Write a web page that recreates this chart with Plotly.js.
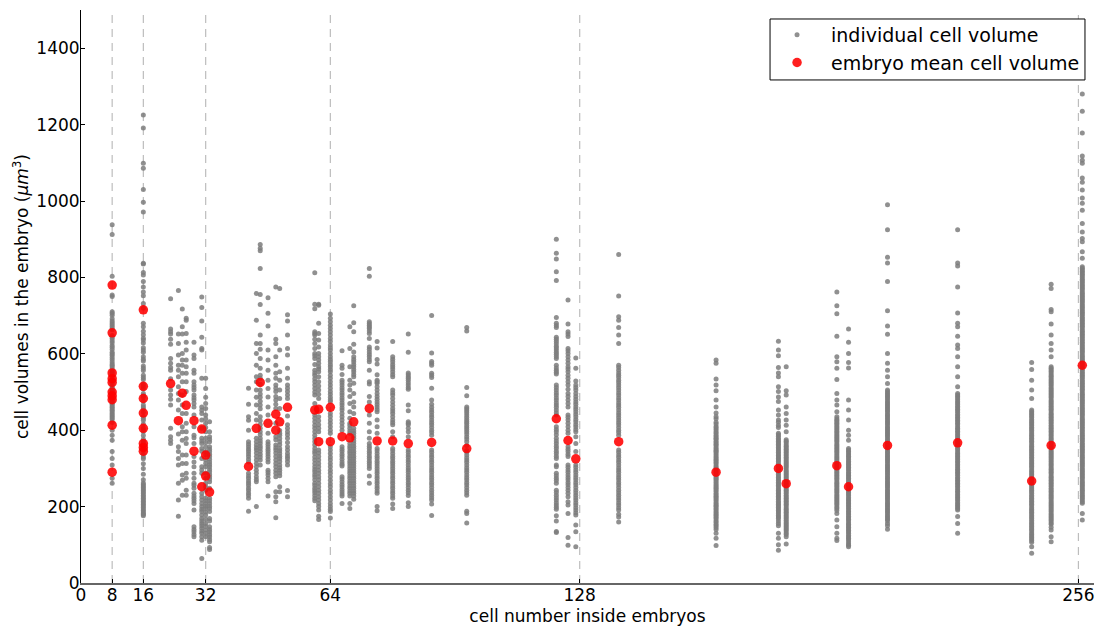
<!DOCTYPE html>
<html>
<head>
<meta charset="utf-8">
<script src="https://cdn.plot.ly/plotly-3.0.1.min.js"></script>
<style>html,body{margin:0;padding:0;background:#fff}#chart{width:1100px;height:629px}</style>
</head>
<body>
<div id="chart"></div>
<script>
const guideCounts = [8, 16, 32, 64, 128, 256];
const xTickValues = [0, 8, 16, 32, 64, 128, 256];
const yTickValues = [0, 200, 400, 600, 800, 1000, 1200, 1400];

const meanCounts = [8,8,8,8,8,8,8,8,8,8,16,16,16,16,16,16,16,16,23,25,26,27,29,29,31,31,32,32,33,43,45,46,48,50,50,51,53,60,61,61,64,64,67,69,70,74,76,80,84,90,99,122,125,127,138,163,179,181,194,197,207,225,244,249,257];
const meanVolumes = [780,655,550,535,525,500,490,480,413,290,715,515,483,445,405,365,355,345,522,425,497,465,425,345,403,252,335,280,238,305,405,525,418,442,400,422,460,453,455,370,460,370,383,380,422,457,372,372,365,368,352,430,373,325,370,290,300,260,307,252,360,367,267,360,570];

const c8 = [938,912,803,754,750,710,701,692,681,672,663,648,640,629,622,611,604,596,585,574,566,556,548,541,532,523,516,508,500,491,484,476,468,460,452,444,436,428,420,400,387,374,344,326,309,274,261,
  706,686,677,667,644,634,617,600,590,579,570,561,552,537,528,512,504,496,488,480,472,464,456,448,440,432];
const c16 = [1225,1191,1099,1086,1030,997,971,837,813,806,789,775,762,752,732,719,680,671,659,650,641,628,616,604,592,581,568,556,544,533,520,508,496,486,476,466,456,447,436,426,416,406,396,386,376,366,356,346,336,325,312,300,285,270,262,254,246,238,230,222,214,206,198,190,182,176,
  835,636,610,586,562,538,514,491,461,431,401,371,351,330,258,250,242,234,226,218,210,202,194,186,179];
const c23 = [744,665,658,652,638,625,588,575,564,557,535,505,492,481,466,405,383,374,365];
const c25 = [766,652,627,597,570,557,540,514,496,479,453,390,357,344,326,309,261,217,175];
const c26 = [717,671,652,601,584,570,549,527,492,466,444,409,396,374,335,313,283,269,230];
const c27 = [693,688,653,630,610,584,566,549,527,501,444,418,396,378,365,335,313,287,274,243,230];
const c29 = [630,597,588,557,549,527,518,505,492,479,461,440,409,387,365,331,317,304,287,274,261,248,235,222,208,191,147,134,121,512,485,470,380,256,228,215,140,127];
const c31 = [749,721,686,643,614,610,536,461,444,427,405,379,365,352,326,304,287,235,217,200,187,169,156,143,130,112,64,452,372,345,296,226,208,193,178,162,150,136,121];
const c32 = [536,509,486,470,457,440,418,396,379,357,344,322,304,287,274,261,243,222,208,195,178,156,139,121,430,407,368,335,313,252,215,201,186,167,148,130];
const c33 = [422,396,383,370,357,344,331,317,304,291,278,265,248,222,208,195,187,169,147,134,121,108,93,88,376,350,337,324,310,297,284,272,215,201,162,140,127,114];
const c43 = [510,468,435,426,400,370,357,344,331,317,287,274,261,248,235,222,188,363,350,338,324,280,267,255,242,229];
const c45 = [758,688,627,601,570,540,527,505,486,466,444,427,379,361,348,331,313,295,278,265,200,370,354,340,322,304,287,271];
const c46 = [886,876,870,823,755,729,649,627,612,588,562,544,536,505,486,466,435,414,396,379,365,352,337,322,309,520,495,476,456,425,405,388,372,358,345,330];
const c48 = [747,706,673,610,584,557,531,509,487,461,440,392,370,357,344,331,317,295,283,265,228,363,350,338,324,289,274];
const c50 = [775,638,627,592,570,549,536,518,501,479,457,418,383,361,348,331,313,295,278,239,226,213,171,510,488,468,375,354,340,322,304,287];
const c51 = [771,610,553,531,505,483,457,399,387,370,352,339,326,309,295,281,252,239,392,378,362,346,332,318,302,288];
const c53 = [702,686,649,614,597,562,536,518,501,483,437,414,396,379,357,339,326,309,242,226,510,492,405,388,368,348,332,318];
const c60 = [812,730,718,658,649,627,601,588,557,544,527,509,492,470,440,422,405,387,370,352,339,322,304,291,278,261,248,236,222,653,638,614,595,572,550,535,518,500,431,413,396,378,361,345,330,313,297,284,270,255,242,229,215];
const c61 = [730,727,680,653,636,618,601,584,566,553,527,505,483,435,414,396,348,331,313,295,278,261,243,226,208,191,166,592,575,560,540,516,494,425,405,340,322,304,287,270,252,235,217,200,175];
const c64 = [704,693,684,675,658,640,623,610,592,579,566,553,536,518,501,486,475,444,427,409,392,357,339,322,304,287,269,252,235,217,200,187,170,666,649,632,616,601,585,572,559,544,527,510,494,480,436,418,400,348,330,313,295,278,260,243,226,208,193];
const c67 = [608,570,562,546,531,518,505,492,479,466,453,435,418,400,357,344,331,317,306,278,265,252,239,228,208,525,511,498,485,472,459,444,427,409,350,337,324,311,272,258,245,233];
const c69 = [671,614,566,531,518,505,488,470,448,431,418,405,392,365,352,339,326,313,300,287,274,261,248,235,208,195,358,345,332,319,306,293,280,267,254,241,228,412,398];
const c70 = [726,681,658,625,605,592,579,566,553,540,523,496,474,461,444,405,392,379,365,352,339,326,313,300,287,274,261,248,235,219,585,572,559,546,398,385,372,358,345,332,319,306,293,280,267,254,241,228];
const c74 = [823,803,684,675,666,653,640,618,605,592,579,557,527,521,488,474,440,418,396,379,365,352,339,326,313,300,280,261,679,670,660,612,598,585,358,345,332,319,306];
const c76 = [632,615,585,573,545,531,523,505,488,474,461,448,427,409,392,352,339,326,313,300,287,274,261,248,235,200,189,527,514,496,481,467,454,346,332,319,306,293,280,267,254,241];
const c80 = [632,592,579,566,553,540,505,492,474,457,444,427,414,396,383,352,339,326,313,300,287,274,261,248,235,222,207,195,586,572,560,546,498,483,465,450,435,420,346,332,319,306,293,280,267,254,241,228];
const c84 = [652,604,550,540,531,518,507,466,451,422,414,396,383,348,335,322,309,296,283,270,257,243,229,210,200,545,536,524,512,418,405,342,329,316,302,290,276,263,250,236];
const c90 = [700,602,580,570,549,538,510,479,468,453,440,427,414,400,387,348,335,322,309,296,283,270,257,243,230,217,207,177,575,544,460,447,434,420,407,394,342,329,316,302,290,276,263,250,236,223];
const c99 = [669,660,512,490,461,451,440,428,418,407,396,383,370,335,322,309,296,283,270,257,243,230,188,182,157,456,446,434,423,412,402,390,377,328,316,302,290,276,263,250,236,360,347,342];
const c122 = [900,863,848,815,792,695,680,669,643,632,620,610,599,588,570,557,547,518,505,492,479,466,453,440,409,396,379,365,352,339,326,309,287,274,261,243,230,217,204,193,176,162,132,674,638,626,615,604,593,563,552,512,498,485,472,460,446,402,388,372,358,345,332,304,281,268,237,223,210,198,135];
const c125 = [741,678,658,645,614,601,584,566,553,536,518,496,479,461,440,427,409,392,357,344,331,309,296,283,270,257,243,226,204,182,119,99,652,608,592,575,560,544,527,507,488,470,434,418,400,350,337,303,290,276,263,250,235,213];
const c127 = [589,562,529,518,505,488,474,461,448,435,422,409,396,383,365,344,309,296,283,270,257,243,230,217,204,191,178,152,134,95,512,496,481,468,455,442,428,415,402,303,290,276,263,250,236,223,210,197,184];
const c138 = [860,751,697,688,669,649,627,570,557,544,531,518,505,492,479,466,453,440,427,414,400,387,348,335,322,309,296,283,270,257,243,230,217,204,191,173,160,564,550,538,525,512,498,485,472,460,446,433,420,407,394,342,329,316,302,290,276,263,250,236,223,210,197,180];
const c163 = [584,575,534,518,503,479,461,445,435,421,410,401,392,383,376,367,360,351,344,336,327,320,312,303,296,288,279,272,264,255,248,240,231,224,216,207,200,192,183,176,168,159,150,140,130,117,98,430,416,406,396,387,379,371,363,355,347,340,331,323,316,307,299,292,283,275,268,259,251,244,235,227,220,211,203,196,187,179,172,163,154,145];
const c179 = [633,610,595,564,550,540,514,501,487,475,453,440,427,413,392,384,375,367,359,351,342,334,326,318,309,301,293,285,276,268,260,252,243,235,227,219,210,202,194,186,177,169,156,130,117,100,86,421,407,388,379,371,363,355,346,338,330,322,313,305,297,289,280,272,264,256,247,239,231,223,214,206,198,190,181,173,162,150];
const c181 = [566,503,492,461,444,427,413,396,375,367,358,350,342,334,325,317,309,301,292,284,276,268,259,251,243,235,226,218,210,202,193,185,177,169,160,152,144,136,127,121,102,371,362,354,346,338,329,321,313,305,296,288,280,272,263,255,247,239,230,222,214,206,197,189,181,173,164,156,148,140,131];
const c194 = [762,726,705,646,592,579,562,533,496,479,466,448,435,426,418,410,402,393,385,377,369,360,352,344,336,327,319,311,303,294,286,278,270,261,253,245,237,228,220,212,204,195,182,165,147,130,117,111,430,422,414,406,397,389,381,373,364,356,348,340,331,323,315,307,298,290,282,274,265,257,249,241,232,224,216,208,199,190];
const c197 = [665,630,601,577,563,479,453,427,400,387,374,352,344,336,328,319,311,303,295,286,278,270,262,253,245,237,229,220,212,204,196,187,179,171,163,154,146,138,130,121,113,103,95,348,340,332,323,315,307,299,290,282,274,266,257,249,241,233,224,216,208,200,191,183,175,167,158,150,142,134,125,117,108,99];
const c207 = [990,925,853,838,789,713,673,651,601,575,557,540,522,505,497,489,481,472,464,456,448,439,431,423,415,406,398,390,382,373,365,357,349,340,332,324,316,307,299,291,283,274,266,258,250,241,233,225,217,208,200,192,184,175,167,156,141,501,493,485,476,468,460,452,443,435,427,419,410,402,394,386,377,369,361,353,344,336,328,320,311,303,295,287,278,270,262,254,245,237,229,221,212,204,196,188,179,171,163,150];
const c225 = [925,838,830,775,707,680,671,646,623,614,592,566,540,514,496,488,480,471,463,455,447,438,430,422,414,405,397,389,381,372,364,356,348,339,331,323,315,306,298,290,282,273,265,257,249,240,232,224,216,207,199,191,174,156,130,492,484,475,467,459,451,442,434,426,418,409,401,393,385,376,368,360,352,343,335,327,319,310,302,294,286,277,269,261,253,244,236,228,220,211,203,195];
const c244 = [577,559,531,505,483,453,445,437,428,420,412,404,395,387,379,371,362,354,346,338,329,321,313,305,296,288,280,272,263,255,247,239,230,222,214,206,197,189,181,173,164,156,148,140,131,123,115,107,95,78,449,441,433,424,416,408,400,391,383,375,367,358,350,342,334,325,317,309,301,292,284,276,268,259,251,243,235,226,218,210,202,193,185,177,169,160,152,144,136,127,119,111];
const c249 = [782,771,716,710,678,649,627,610,592,566,558,550,541,533,525,517,508,500,492,484,475,467,459,451,442,434,426,418,409,401,393,385,376,368,360,352,343,335,327,319,310,302,294,286,277,269,261,253,244,236,228,220,211,203,195,187,178,170,162,154,139,121,108,562,554,545,537,529,521,512,504,496,488,479,471,463,455,446,438,430,422,413,405,397,389,380,372,364,356,347,339,331,323,314,306,298,290,281,273,265,257,248,240,232,224,215,207,199,191,182,174,166,158,146];
const c257 = [1280,1235,1178,1118,1107,1099,1060,1049,1029,1008,994,976,941,919,902,893,867,850,828,820,812,804,795,787,779,771,762,754,746,738,729,721,713,705,696,688,680,672,663,655,647,639,630,622,614,606,597,589,581,573,564,556,548,540,531,523,515,507,498,490,482,474,465,457,449,441,432,424,416,408,399,391,383,375,366,358,350,342,333,325,317,309,300,292,284,276,267,259,251,243,234,226,217,209,182,165,
  824,816,808,800,791,783,775,767,758,750,742,734,725,717,709,701,692,684,676,668,659,651,643,635,626,618,610,602,593,585,577,569,560,552,544,536,527,519,511,503,494,486,478,470,461,453,445,437,428,420,412,404,395,387,379,371,362,354,346,338,329,321,313,305,296,288,280,272,263,255,247,239,230,222,213];

const columnCounts = [8,16,23,25,26,27,29,31,32,33,43,45,46,48,50,51,53,60,61,64,67,69,70,74,76,80,84,90,99,122,125,127,138,163,179,181,194,197,207,225,244,249,257];
const columnValues = [c8,c16,c23,c25,c26,c27,c29,c31,c32,c33,c43,c45,c46,c48,c50,c51,c53,c60,c61,c64,c67,c69,c70,c74,c76,c80,c84,c90,c99,c122,c125,c127,c138,c163,c179,c181,c194,c197,c207,c225,c244,c249,c257];

const cellX = [], cellY = [];
columnValues.forEach((vals, i) => vals.forEach(v => { cellX.push(columnCounts[i]); cellY.push(v); }));

const font = 'DejaVu Sans, sans-serif';
const traces = [
  {type:'scatter', mode:'markers', name:'individual cell volume', x:cellX, y:cellY, cliponaxis:false,
   marker:{color:'#7c7c7c', size:5, opacity:0.85, line:{width:0}}},
  {type:'scatter', mode:'markers', name:'embryo mean cell volume', x:meanCounts, y:meanVolumes, cliponaxis:false,
   marker:{color:'#ff0000', size:9.5, opacity:0.88, line:{width:0}}}
];
const layout = {
  width:1100, height:629, paper_bgcolor:'#fff', plot_bgcolor:'#fff',
  margin:{l:81, r:6, t:10, b:46, pad:0},
  font:{family:font, size:17, color:'#000'},
  showlegend:true,
  legend:{x:0.6733, y:0.9896, xanchor:'left', yanchor:'top', bgcolor:'rgba(0,0,0,0)', borderwidth:0,
          font:{family:font, size:19, color:'#000'}, itemsizing:'trace', itemwidth:58},
  xaxis:{range:[0,260], tickmode:'array', tickvals:xTickValues, ticktext:xTickValues.map(String), showgrid:false, zeroline:false,
         showline:true, linecolor:'#666', linewidth:2, ticks:'inside', ticklen:4, tickcolor:'#000', tickwidth:1, ticklabelstandoff:-4, tickfont:{family:font, size:17},
         title:{text:'cell number inside embryos', font:{family:font, size:17}, standoff:6}},
  yaxis:{range:[0,1500], tickmode:'array', tickvals:yTickValues, ticktext:yTickValues.map(String), showgrid:false, zeroline:false,
         showline:true, linecolor:'#000', linewidth:1, ticks:'inside', ticklen:4, tickcolor:'#000', ticklabelstandoff:-3, tickfont:{family:font, size:17},
         title:{text:'cell volumes in the embryo (<i>μm</i><sup>3</sup>)', font:{family:font, size:17}, standoff:3}},
  shapes: guideCounts.map(c => ({type:'line', xref:'x', yref:'paper', x0:c, x1:c, y0:0, y1:1, layer:'below',
          line:{color:'#bdbdbd', width:1.2, dash:'8px,6px'}})).concat([
    {type:'rect', xref:'paper', yref:'paper', layer:'above', x0:0.6802, x1:0.9911, y0:0.8779, y1:0.9843,
     fillcolor:'#fff', line:{color:'#000', width:1}}
  ])
};
Plotly.newPlot('chart', traces, layout, {displayModeBar:false, responsive:false});
</script>
</body>
</html>
